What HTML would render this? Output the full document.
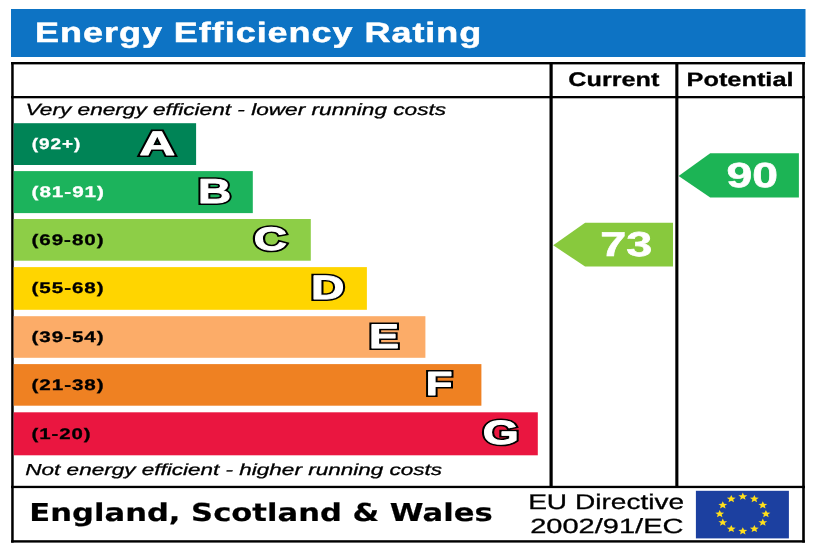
<!DOCTYPE html>
<html lang="en">
<head>
<meta charset="utf-8">
<title>Energy Efficiency Rating</title>
<style>
html,body{margin:0;padding:0;background:#fff;}
body{width:820px;height:547px;overflow:hidden;}
svg{display:block;}
svg text{text-rendering:geometricPrecision;}
</style>
</head>
<body>
<svg width="820" height="547" viewBox="0 0 820 547">
<defs><filter id="soft" x="0" y="0" width="820" height="547" filterUnits="userSpaceOnUse"><feGaussianBlur stdDeviation="0.4"/></filter></defs>
<g filter="url(#soft)">
<rect x="-5" y="-5" width="830" height="557" fill="#fff"/>
<!-- title band -->
<rect x="11" y="9" width="794.5" height="48" fill="#0a73c4"/>
<!-- frame -->
<g fill="#000">
<rect x="11" y="62" width="794" height="2.4"/>
<rect x="11" y="540.2" width="794" height="2.4"/>
<rect x="11.2" y="62" width="2.5" height="480.6"/>
<rect x="802.2" y="62" width="2.6" height="480.6"/>
<rect x="11" y="96" width="794" height="2.3"/>
<rect x="11" y="485.8" width="794" height="2.3"/>
<rect x="549.5" y="62" width="3.2" height="425"/>
<rect x="675.3" y="62" width="3.1" height="425"/>
</g>
<!-- bars -->
<rect x="13.7" y="123.2" width="182.4" height="41.8" fill="#008457"/>
<rect x="13.7" y="171.1" width="239.1" height="42" fill="#1bb35c"/>
<rect x="13.7" y="219" width="297.1" height="41.7" fill="#8dce46"/>
<rect x="13.7" y="267.1" width="353.2" height="42.7" fill="#ffd502"/>
<rect x="13.7" y="316.2" width="411.7" height="41.6" fill="#fcac68"/>
<rect x="13.7" y="364.1" width="467.7" height="41.6" fill="#ef8123"/>
<rect x="13.7" y="412.3" width="524.1" height="43" fill="#ea183f"/>
<!-- arrows -->
<polygon points="553.2,245.3 585.1,222.7 673,222.7 673,266.6 585.1,266.6" fill="#88c93e"/>
<polygon points="678.6,176.0 710.2,153.3 798.9,153.3 798.9,197.6 710.2,197.6" fill="#1fb455"/>
<!-- flag -->
<rect x="695.9" y="490.8" width="93" height="47.6" fill="#1b3fa0"/>
<g fill="#ffdf1a" id="stars"><polygon points="742.80,492.60 744.02,495.18 747.27,495.36 744.77,497.14 745.56,499.84 742.80,498.36 740.04,499.84 740.83,497.14 738.33,495.36 741.58,495.18"/>
<polygon points="754.35,494.92 755.57,497.49 758.82,497.68 756.32,499.46 757.11,502.15 754.35,500.68 751.59,502.15 752.38,499.46 749.88,497.68 753.13,497.49"/>
<polygon points="762.81,501.25 764.02,503.83 767.28,504.01 764.77,505.79 765.57,508.49 762.81,507.01 760.04,508.49 760.84,505.79 758.34,504.01 761.59,503.83"/>
<polygon points="765.90,509.90 767.12,512.48 770.37,512.66 767.87,514.44 768.66,517.14 765.90,515.66 763.14,517.14 763.93,514.44 761.43,512.66 764.68,512.48"/>
<polygon points="762.81,518.55 764.02,521.13 767.28,521.31 764.77,523.09 765.57,525.79 762.81,524.31 760.04,525.79 760.84,523.09 758.34,521.31 761.59,521.13"/>
<polygon points="754.35,524.88 755.57,527.46 758.82,527.65 756.32,529.43 757.11,532.12 754.35,530.64 751.59,532.12 752.38,529.43 749.88,527.65 753.13,527.46"/>
<polygon points="742.80,527.20 744.02,529.78 747.27,529.96 744.77,531.74 745.56,534.44 742.80,532.96 740.04,534.44 740.83,531.74 738.33,529.96 741.58,529.78"/>
<polygon points="731.25,524.88 732.47,527.46 735.72,527.65 733.22,529.43 734.01,532.12 731.25,530.64 728.49,532.12 729.28,529.43 726.78,527.65 730.03,527.46"/>
<polygon points="722.79,518.55 724.01,521.13 727.26,521.31 724.76,523.09 725.56,525.79 722.79,524.31 720.03,525.79 720.83,523.09 718.32,521.31 721.58,521.13"/>
<polygon points="719.70,509.90 720.92,512.48 724.17,512.66 721.67,514.44 722.46,517.14 719.70,515.66 716.94,517.14 717.73,514.44 715.23,512.66 718.48,512.48"/>
<polygon points="722.79,501.25 724.01,503.83 727.26,504.01 724.76,505.79 725.56,508.49 722.79,507.01 720.03,508.49 720.83,505.79 718.32,504.01 721.58,503.83"/>
<polygon points="731.25,494.92 732.47,497.49 735.72,497.68 733.22,499.46 734.01,502.15 731.25,500.68 728.49,502.15 729.28,499.46 726.78,497.68 730.03,497.49"/></g>
<text transform="translate(35.06 41.85) scale(1.2807 1)" fill="#fff" stroke="#fff" stroke-width="0.5" style='font-family:"Liberation Sans", Arial, Helvetica, sans-serif;font-weight:bold;font-style:normal;font-size:28.12px;letter-spacing:0.750px'>Energy Efficiency Rating</text>
<text transform="translate(568.29 86.35) scale(1.2793 1)" fill="#000" stroke="#000" stroke-width="0.3" style='font-family:"Liberation Sans", Arial, Helvetica, sans-serif;font-weight:bold;font-style:normal;font-size:19.72px'>Current</text>
<text transform="translate(686.58 86.16) scale(1.3036 1)" fill="#000" stroke="#000" stroke-width="0.3" style='font-family:"Liberation Sans", Arial, Helvetica, sans-serif;font-weight:bold;font-style:normal;font-size:19.43px'>Potential</text>
<text transform="translate(25.58 115.35) scale(1.3953 1)" fill="#000" stroke="#000" stroke-width="0.3" style='font-family:"Liberation Sans", Arial, Helvetica, sans-serif;font-weight:normal;font-style:italic;font-size:16.23px'>Very energy efficient - lower running costs</text>
<text transform="translate(25.32 474.95) scale(1.4126 1)" fill="#000" stroke="#000" stroke-width="0.3" style='font-family:"Liberation Sans", Arial, Helvetica, sans-serif;font-weight:normal;font-style:italic;font-size:15.94px'>Not energy efficient - higher running costs</text>
<text transform="translate(29.37 521.20) scale(1.2415 1)" fill="#000" stroke="#000" stroke-width="0.2" style='font-family:"DejaVu Sans", Verdana, "Liberation Sans", sans-serif;font-weight:bold;font-style:normal;font-size:24.66px'>England, Scotland &amp; Wales</text>
<text transform="translate(528.15 508.95) scale(1.3266 1)" fill="#000" stroke="#000" stroke-width="0.3" style='font-family:"Liberation Sans", Arial, Helvetica, sans-serif;font-weight:normal;font-style:normal;font-size:21.16px'>EU Directive</text>
<text transform="translate(530.14 532.54) scale(1.4133 1)" fill="#000" stroke="#000" stroke-width="0.3" style='font-family:"Liberation Sans", Arial, Helvetica, sans-serif;font-weight:normal;font-style:normal;font-size:20.56px'>2002/91/EC</text>
<text transform="translate(726.50 187.25) scale(1.3358 1)" fill="#fff" stroke="#fff" stroke-width="0.6" style='font-family:"Liberation Sans", Arial, Helvetica, sans-serif;font-weight:bold;font-style:normal;font-size:34.65px'>90</text>
<text transform="translate(600.32 256.15) scale(1.3542 1)" fill="#fff" stroke="#fff" stroke-width="0.6" style='font-family:"Liberation Sans", Arial, Helvetica, sans-serif;font-weight:bold;font-style:normal;font-size:34.51px'>73</text>
<text transform="translate(31.63 148.50) scale(1.2443 1)" fill="#fff" stroke="#fff" stroke-width="0.3" style='font-family:"Liberation Sans", Arial, Helvetica, sans-serif;font-weight:bold;font-style:normal;font-size:15.28px;letter-spacing:0.757px'>(92+)</text>
<text transform="translate(31.57 196.60) scale(1.3554 1)" fill="#fff" stroke="#fff" stroke-width="0.3" style='font-family:"Liberation Sans", Arial, Helvetica, sans-serif;font-weight:bold;font-style:normal;font-size:15.28px;letter-spacing:0.696px'>(81-91)</text>
<text transform="translate(31.57 244.80) scale(1.3478 1)" fill="#000" stroke="#000" stroke-width="0.3" style='font-family:"Liberation Sans", Arial, Helvetica, sans-serif;font-weight:bold;font-style:normal;font-size:15.28px;letter-spacing:0.696px'>(69-80)</text>
<text transform="translate(31.57 293.20) scale(1.3497 1)" fill="#000" stroke="#000" stroke-width="0.3" style='font-family:"Liberation Sans", Arial, Helvetica, sans-serif;font-weight:bold;font-style:normal;font-size:15.28px;letter-spacing:0.696px'>(55-68)</text>
<text transform="translate(31.57 341.50) scale(1.3497 1)" fill="#000" stroke="#000" stroke-width="0.3" style='font-family:"Liberation Sans", Arial, Helvetica, sans-serif;font-weight:bold;font-style:normal;font-size:15.28px;letter-spacing:0.696px'>(39-54)</text>
<text transform="translate(31.57 389.90) scale(1.3497 1)" fill="#000" stroke="#000" stroke-width="0.3" style='font-family:"Liberation Sans", Arial, Helvetica, sans-serif;font-weight:bold;font-style:normal;font-size:15.28px;letter-spacing:0.696px'>(21-38)</text>
<text transform="translate(31.58 438.70) scale(1.3373 1)" fill="#000" stroke="#000" stroke-width="0.3" style='font-family:"Liberation Sans", Arial, Helvetica, sans-serif;font-weight:bold;font-style:normal;font-size:15.28px;letter-spacing:0.687px'>(1-20)</text>
<text transform="translate(139.43 154.50) scale(1.4516 1)" fill="#000" stroke="#000" stroke-width="4.0" stroke-linejoin="miter" stroke-miterlimit="3" style='font-family:"Liberation Sans", Arial, Helvetica, sans-serif;font-weight:bold;font-style:normal;font-size:34.00px'>A</text>
<text transform="translate(139.43 154.50) scale(1.4516 1)" fill="#fff" stroke="#fff" stroke-width="0.9" stroke-linejoin="round" style='font-family:"Liberation Sans", Arial, Helvetica, sans-serif;font-weight:bold;font-style:normal;font-size:34.00px'>A</text>
<text transform="translate(197.97 202.80) scale(1.3308 1)" fill="#000" stroke="#000" stroke-width="4.0" stroke-linejoin="miter" stroke-miterlimit="3" style='font-family:"Liberation Sans", Arial, Helvetica, sans-serif;font-weight:bold;font-style:normal;font-size:34.49px'>B</text>
<text transform="translate(197.97 202.80) scale(1.3308 1)" fill="#fff" stroke="#fff" stroke-width="0.9" stroke-linejoin="round" style='font-family:"Liberation Sans", Arial, Helvetica, sans-serif;font-weight:bold;font-style:normal;font-size:34.49px'>B</text>
<text transform="translate(253.78 250.27) scale(1.4139 1)" fill="#000" stroke="#000" stroke-width="4.0" stroke-linejoin="miter" stroke-miterlimit="3" style='font-family:"Liberation Sans", Arial, Helvetica, sans-serif;font-weight:bold;font-style:normal;font-size:32.54px'>C</text>
<text transform="translate(253.78 250.27) scale(1.4139 1)" fill="#fff" stroke="#fff" stroke-width="0.9" stroke-linejoin="round" style='font-family:"Liberation Sans", Arial, Helvetica, sans-serif;font-weight:bold;font-style:normal;font-size:32.54px'>C</text>
<text transform="translate(311.04 299.20) scale(1.3648 1)" fill="#000" stroke="#000" stroke-width="4.0" stroke-linejoin="miter" stroke-miterlimit="3" style='font-family:"Liberation Sans", Arial, Helvetica, sans-serif;font-weight:bold;font-style:normal;font-size:33.91px'>D</text>
<text transform="translate(311.04 299.20) scale(1.3648 1)" fill="#fff" stroke="#fff" stroke-width="0.9" stroke-linejoin="round" style='font-family:"Liberation Sans", Arial, Helvetica, sans-serif;font-weight:bold;font-style:normal;font-size:33.91px'>D</text>
<text transform="translate(369.12 347.90) scale(1.3162 1)" fill="#000" stroke="#000" stroke-width="4.0" stroke-linejoin="miter" stroke-miterlimit="3" style='font-family:"Liberation Sans", Arial, Helvetica, sans-serif;font-weight:bold;font-style:normal;font-size:34.20px'>E</text>
<text transform="translate(369.12 347.90) scale(1.3162 1)" fill="#fff" stroke="#fff" stroke-width="0.9" stroke-linejoin="round" style='font-family:"Liberation Sans", Arial, Helvetica, sans-serif;font-weight:bold;font-style:normal;font-size:34.20px'>E</text>
<text transform="translate(425.79 395.27) scale(1.3093 1)" fill="#000" stroke="#000" stroke-width="4.0" stroke-linejoin="miter" stroke-miterlimit="3" style='font-family:"Liberation Sans", Arial, Helvetica, sans-serif;font-weight:bold;font-style:normal;font-size:33.43px'>F</text>
<text transform="translate(425.79 395.27) scale(1.3093 1)" fill="#fff" stroke="#fff" stroke-width="0.9" stroke-linejoin="round" style='font-family:"Liberation Sans", Arial, Helvetica, sans-serif;font-weight:bold;font-style:normal;font-size:33.43px'>F</text>
<text transform="translate(482.76 443.86) scale(1.3788 1)" fill="#000" stroke="#000" stroke-width="4.0" stroke-linejoin="miter" stroke-miterlimit="3" style='font-family:"Liberation Sans", Arial, Helvetica, sans-serif;font-weight:bold;font-style:normal;font-size:33.66px'>G</text>
<text transform="translate(482.76 443.86) scale(1.3788 1)" fill="#fff" stroke="#fff" stroke-width="0.9" stroke-linejoin="round" style='font-family:"Liberation Sans", Arial, Helvetica, sans-serif;font-weight:bold;font-style:normal;font-size:33.66px'>G</text>
</g>
</svg>
</body>
</html>
